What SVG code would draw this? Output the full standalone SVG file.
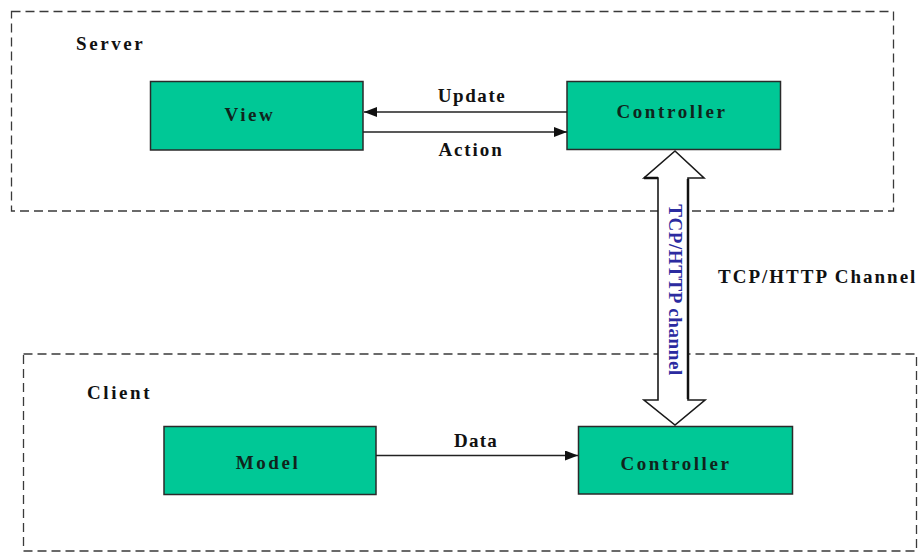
<svg xmlns="http://www.w3.org/2000/svg" width="920" height="552" viewBox="0 0 920 552">
  <defs>
    <style>
      .zone { fill: none; stroke: #3a3a3a; stroke-width: 1.3; stroke-dasharray: 9 5; }
      .box { fill: #00c896; stroke: #2a2a2a; stroke-width: 1.5; }
      .lbl { font-family: "Liberation Serif", "Times New Roman", serif; font-weight: bold; font-size: 19px; fill: #111; }
      .node { letter-spacing: 2.6px; fill: #10241c; }
      .edge { stroke: #222; stroke-width: 1.5; fill: none; }
      .pipe { fill: #fff; stroke: #1a1a1a; stroke-width: 1.6; stroke-linejoin: miter; }
      .pipe-text { font-family: "Liberation Serif", "Times New Roman", serif; font-weight: bold; font-size: 19px; fill: #2b2ba0; letter-spacing: 0.6px; }
    </style>
    <marker id="head" viewBox="0 0 13 10" refX="13" refY="5" markerWidth="13" markerHeight="10" markerUnits="userSpaceOnUse" orient="auto">
      <path d="M0,0 L13,5 L0,10 Z" fill="#111"/>
    </marker>
  </defs>

  <rect width="920" height="552" fill="#ffffff"/>

  <!-- server and client regions -->
  <g id="server-zone">
    <rect class="zone" x="11.5" y="11.5" width="882" height="199.5"/>
    <text class="lbl" x="76" y="50" letter-spacing="2.6">Server</text>
  </g>
  <g id="client-zone">
    <rect class="zone" x="23.5" y="354" width="893" height="197"/>
    <text class="lbl" x="87" y="399" letter-spacing="2.6">Client</text>
  </g>

  <!-- nodes -->
  <g id="view">
    <rect class="box" x="150.5" y="81.5" width="212.5" height="68.5"/>
    <text class="lbl node" x="250" y="121" text-anchor="middle">View</text>
  </g>
  <g id="server-controller">
    <rect class="box" x="567" y="81.5" width="213.5" height="68"/>
    <text class="lbl node" x="672" y="118" text-anchor="middle">Controller</text>
  </g>
  <g id="model">
    <rect class="box" x="164" y="426.5" width="212" height="68"/>
    <text class="lbl node" x="268" y="469" text-anchor="middle">Model</text>
  </g>
  <g id="client-controller">
    <rect class="box" x="578.5" y="426.5" width="214" height="67.5"/>
    <text class="lbl node" x="676" y="470" text-anchor="middle">Controller</text>
  </g>

  <!-- connectors -->
  <g id="connectors">
    <line class="edge" x1="567" y1="112" x2="364" y2="112" marker-end="url(#head)"/>
    <text class="lbl" x="472" y="102" text-anchor="middle" letter-spacing="1.6">Update</text>
    <line class="edge" x1="363" y1="132" x2="567" y2="132" marker-end="url(#head)"/>
    <text class="lbl" x="471" y="156" text-anchor="middle" letter-spacing="1.9">Action</text>
    <line class="edge" x1="376" y1="455.5" x2="578" y2="455.5" marker-end="url(#head)"/>
    <text class="lbl" x="476" y="447" text-anchor="middle" letter-spacing="1.2">Data</text>

    <!-- channel between the two controllers -->
    <g id="channel">
      <polygon class="pipe" points="675,151 704,178 688,178 688,400 705,400 675,425 644,400 658,400 658,178 644,178"/>
      <line x1="688" y1="179" x2="688" y2="399" stroke="#111" stroke-width="2.5"/>
      <line x1="644" y1="178" x2="658" y2="178" stroke="#111" stroke-width="2.5"/>
      <text class="pipe-text" transform="translate(669 290) rotate(90)" text-anchor="middle">TCP/HTTP channel</text>
    </g>
    <text class="lbl" x="718" y="283" letter-spacing="2">TCP/HTTP Channel</text>
  </g>
</svg>
